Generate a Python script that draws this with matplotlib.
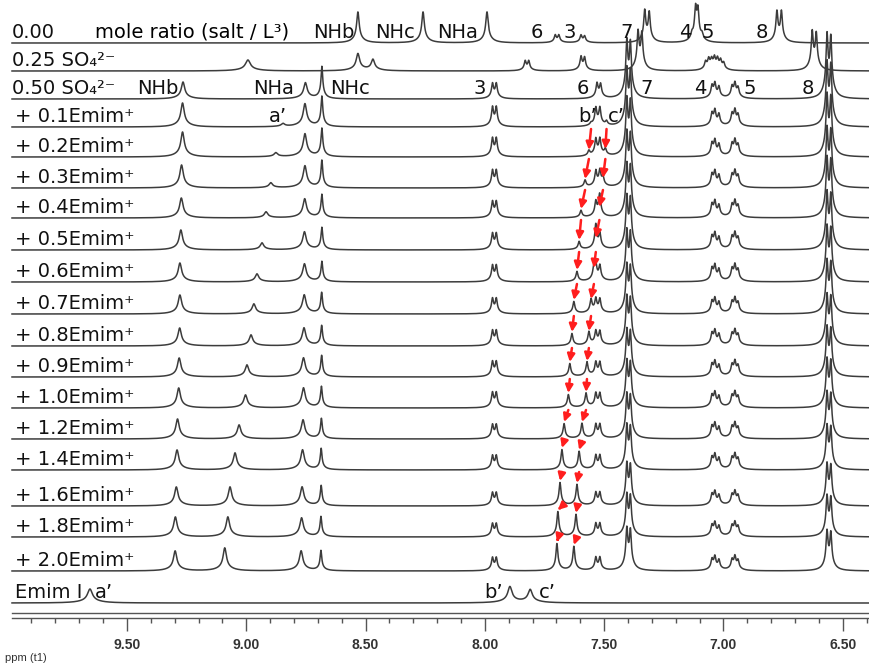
import numpy as np
import matplotlib.pyplot as plt
from matplotlib.ticker import MultipleLocator, FormatStrFormatter

plt.rcParams['font.family'] = ['DejaVu Sans']
plt.rcParams['mathtext.fontset'] = 'dejavusans'

W, H = 869, 664
PPM_LEFT, PPM_RIGHT = 10.032, 6.390          # full figure width
PPM_START = PPM_LEFT - 12 / W * (PPM_LEFT - PPM_RIGHT)   # where traces begin

# ---------------- data (ppm / peak height in px) ----------------
emim_eq = ['0.1', '0.2', '0.3', '0.4', '0.5', '0.6', '0.7', '0.8',
           '0.9', '1.0', '1.2', '1.4', '1.6', '1.8', '2.0']

# 0.00 : ligand only
free_ppm = [8.532, 8.259, 7.991, 7.705, 7.690, 7.597, 7.582, 7.330, 7.311,
            7.132, 7.117, 7.107, 7.090, 6.776, 6.757]
free_h = [31, 31, 31, 7, 7, 7, 6, 30, 28, 5, 30, 28, 5, 29, 29]
free_w = [0.006, 0.006, 0.006] + [0.0045] * 12

# 0.25 SO4(2-)
so4a_ppm = [8.993, 8.532, 8.469, 7.831, 7.816, 7.597, 7.582, 7.358, 7.342,
            7.075, 7.062, 7.050, 7.038, 7.025, 7.012, 6.999, 6.628, 6.611]
so4a_h = [11, 17, 11, 9, 9, 13, 12, 36, 34, 7, 9, 8, 10, 9, 8, 6, 36, 34]
so4a_w = [0.012, 0.008, 0.008] + [0.0045] * 15

# 0.50 SO4(2-)
so4b_ppm = [9.265, 8.752, 8.683, 7.968, 7.952, 7.530, 7.515, 7.405, 7.390,
            7.048, 7.036, 7.019, 6.964, 6.952, 6.939, 6.566, 6.550]
so4b_h = [17, 16, 32, 14, 14, 14, 13, 52, 50, 11, 13, 10, 10, 13, 9, 58, 55]
so4b_w = [0.008, 0.008, 0.004] + [0.0045] * 14

# titration with Emim+
nhb_ppm = [9.267, 9.267, 9.271, 9.272, 9.274, 9.278, 9.278, 9.279, 9.281,
           9.283, 9.288, 9.290, 9.293, 9.297, 9.298]
nhb_h = [24, 25, 23, 20, 20, 19, 19, 18, 19, 20, 20, 20, 19, 20, 20]
a_ppm = [8.846, 8.876, 8.897, 8.917, 8.934, 8.955, 8.968, 8.980, 8.997,
         9.003, 9.030, 9.047, 9.068, 9.077, 9.090]
a_h = [3, 4, 5, 6, 7, 8, 10, 11, 12, 13, 14, 17, 19, 20, 23]
nha_ppm = [8.754, 8.754, 8.754, 8.755, 8.756, 8.756, 8.757, 8.758, 8.760,
           8.760, 8.762, 8.764, 8.766, 8.768, 8.770]
nha_h = [23, 23, 22, 19, 18, 18, 19, 18, 19, 20, 19, 20, 19, 19, 20]
nhc_ppm = [8.683, 8.683, 8.683, 8.683, 8.683, 8.683, 8.684, 8.684, 8.684,
           8.685, 8.685, 8.686, 8.686, 8.687, 8.687]
nhc_h = [30, 28, 27, 23, 22, 20, 21, 20, 21, 21, 20, 21, 20, 20, 20]
b_ppm = [7.555, 7.564, 7.580, 7.597, 7.605, 7.614, 7.627, 7.635, 7.644,
         7.650, 7.668, 7.677, 7.685, 7.694, 7.698]
b_h = [2, 5, 7, 7, 8, 10, 12, 12, 13, 13, 15, 20, 23, 25, 27]
c_ppm = [7.490, 7.495, 7.505, 7.520, 7.535, 7.543, 7.555, 7.564, 7.572,
         7.576, 7.593, 7.605, 7.614, 7.618, 7.627]
c_h = [4, 6, 8, 9, 10, 12, 13, 13, 14, 14, 15, 18, 21, 22, 24]
h3_h = [18, 17, 16, 15, 15, 15, 14, 14, 14, 14, 13, 13, 12, 12, 12]
h6_h = [17, 16, 15, 14, 14, 14, 13, 13, 13, 13, 13, 13, 12, 12, 12]
h7_h = [52, 52, 50, 48, 48, 46, 44, 44, 42, 42, 40, 40, 38, 38, 38]
h45_h = [14, 14, 14, 14, 14, 14, 13, 13, 13, 13, 13, 13, 12, 12, 12]
h8_h = [58, 56, 54, 54, 52, 50, 48, 46, 45, 44, 42, 40, 38, 37, 36]

# Emim I reference
emim_ppm = [9.655, 7.895, 7.810]
emim_h = [14, 16, 13]
emim_w = [0.012, 0.010, 0.010]

row_labels = (['0.00', '0.25 SO\u2084\u00b2\u207b', '0.50 SO\u2084\u00b2\u207b']
              + ['+ %sEmim\u207a' % e for e in emim_eq] + ['Emim I'])
row_base = [43, 71, 99, 127, 157, 188, 218, 250, 282, 314, 346, 377, 408,
            439, 470, 506, 537, 571, 603]

# ---------------- drawing ----------------
x = np.linspace(PPM_START, PPM_RIGHT, 6000)


def trace(pos, hts, wid):
    y = np.zeros_like(x)
    for p, h, w in zip(pos, hts, wid):
        d = (x - p) / w
        y += h * (0.8 / (1 + d ** 2) + 0.2 / (1 + (d / 4) ** 2))
    return y


spectra = [trace(free_ppm, free_h, free_w),
           trace(so4a_ppm, so4a_h, so4a_w),
           trace(so4b_ppm, so4b_h, so4b_w)]
for i in range(len(emim_eq)):
    pos = [nhb_ppm[i], a_ppm[i], nha_ppm[i], nhc_ppm[i], 7.968, 7.952,
           b_ppm[i], c_ppm[i], 7.535, 7.518, 7.405, 7.390,
           7.048, 7.036, 7.019, 6.964, 6.952, 6.939, 6.566, 6.550]
    hts = [nhb_h[i], a_h[i], nha_h[i], nhc_h[i], h3_h[i], h3_h[i],
           b_h[i], c_h[i], h6_h[i], h6_h[i], h7_h[i], h7_h[i] * 0.95,
           h45_h[i] * 0.8, h45_h[i], h45_h[i] * 0.75,
           h45_h[i] * 0.75, h45_h[i], h45_h[i] * 0.7,
           h8_h[i], h8_h[i] * 0.95]
    wid = [0.008, 0.008, 0.008, 0.004] + [0.0045] * 16
    spectra.append(trace(pos, hts, wid))
spectra.append(trace(emim_ppm, emim_h, emim_w))

fig = plt.figure(figsize=(W / 100, H / 100), dpi=100)
ax = fig.add_axes([0, 0, 1, 1])
ax.set_xlim(PPM_LEFT, PPM_RIGHT)
ax.set_ylim(H, 0)
ax.axis('off')

for base, spec in zip(row_base, spectra):
    ax.plot(x, base - spec, color='#3c3c3c', lw=1.1, solid_joinstyle='round')

# red arrows following b' and c'
for i in range(len(emim_eq) - 1):
    for pos, hts in ((b_ppm, b_h), (c_ppm, c_h)):
        ax.annotate('', xy=(pos[i + 1], row_base[4 + i] - hts[i + 1] - 2),
                    xytext=(pos[i], row_base[3 + i] + 2),
                    arrowprops=dict(arrowstyle='-|>,head_length=0.45,head_width=0.22',
                                    color='#ff1e1e', lw=1.8, shrinkA=0, shrinkB=0),
                    zorder=5)

# text overlay in pixel coordinates
tx = fig.add_axes([0, 0, 1, 1])
tx.set_xlim(0, W)
tx.set_ylim(H, 0)
tx.axis('off')
tx.patch.set_alpha(0)

FS = 14
for lab, base in zip(row_labels, row_base):
    tx.text(12 if base < 110 else 15, base - 5, lab, fontsize=FS,
            va='baseline', ha='left', color='#111111')

tx.text(95, 38, 'mole ratio (salt / L\u00b3)', fontsize=FS, va='baseline')
for s, xc, yb in [('NHb', 334, 38), ('NHc', 395, 38), ('NHa', 458, 38),
                  ('6', 537, 38), ('3', 570, 38), ('7', 627, 38),
                  ('4', 685, 38), ('5', 708, 38), ('8', 762, 38),
                  ('NHb', 158, 94), ('NHa', 274, 94), ('NHc', 350, 94),
                  ('3', 480, 94), ('6', 583, 94), ('7', 647, 94),
                  ('4', 700, 94), ('5', 750, 94), ('8', 808, 94),
                  ("a\u2019", 278, 122), ("b\u2019", 588, 122), ("c\u2019", 616, 122),
                  ("a\u2019", 104, 598), ("b\u2019", 494, 598), ("c\u2019", 547, 598)]:
    tx.text(xc, yb, s, fontsize=FS, ha='center', va='baseline', color='#111111')

# ppm axis: double line with ticks below
axis_ax = fig.add_axes([12 / W, (H - 618) / H, 1 - 12 / W, 5 / H])
axis_ax.set_xlim(PPM_START, PPM_RIGHT)
axis_ax.patch.set_alpha(0)
axis_ax.set_yticks([])
for side in ('left', 'right'):
    axis_ax.spines[side].set_visible(False)
for side in ('top', 'bottom'):
    axis_ax.spines[side].set_color('#555555')
    axis_ax.spines[side].set_linewidth(1.0)
axis_ax.xaxis.set_major_locator(MultipleLocator(0.5))
axis_ax.xaxis.set_minor_locator(MultipleLocator(0.1))
axis_ax.xaxis.set_major_formatter(FormatStrFormatter('%.2f'))
axis_ax.tick_params(axis='x', which='major', direction='out', length=9.5,
                    width=1.0, color='#555555', pad=5, labelsize=10,
                    labelcolor='#333333')
axis_ax.tick_params(axis='x', which='minor', direction='out', length=3.8,
                    width=1.0, color='#555555')
for lbl in axis_ax.get_xticklabels():
    lbl.set_fontfamily('Liberation Sans')
    lbl.set_fontweight('bold')

tx.text(5, 658, 'ppm (t1)', fontsize=8, va='center', ha='left',
        family='Liberation Sans', color='#333333')

fig.savefig('out.png', dpi=100)
